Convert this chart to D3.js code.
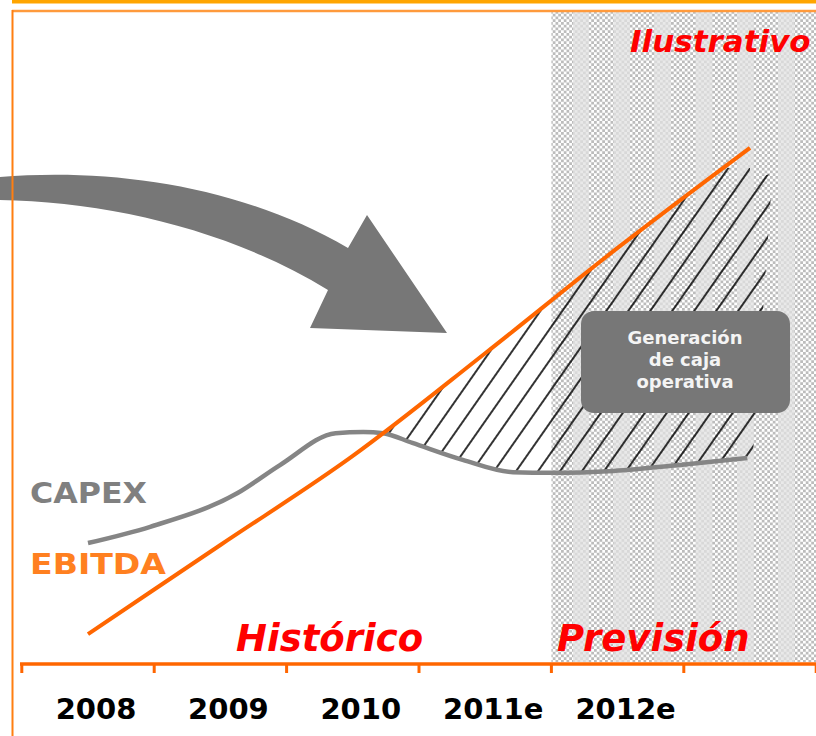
<!DOCTYPE html>
<html>
<head>
<meta charset="utf-8">
<script src="https://cdn.jsdelivr.net/npm/d3@7"></script>
<style>
  html, body { margin: 0; padding: 0; background: #fff; }
  svg { display: block; }
  text { font-family: "DejaVu Sans", Verdana, sans-serif; font-weight: bold; }
</style>
</head>
<body>
<script>
// ---------- data ----------
const years = [2008, 2009, 2010, 2011, 2012, 2013];
const ebitdaValues = [4.3, 18.0, 31.7, 47.5, 63.7, 79.1];
const capexYears = [2008, 2008.47, 2009.13, 2009.45, 2009.87, 2010.08, 2010.23, 2010.45, 2010.83, 2011.21, 2011.51, 2011.97, 2012.47, 2012.98];
const capexValues = [18.3, 20.8, 26.0, 30.3, 35.2, 35.4, 35.2, 33.7, 31.1, 29.2, 29.1, 29.4, 30.3, 31.4];
const tickLabels = ["2008", "2009", "2010", "2011e", "2012e"];
const tickYears = [2007.5, 2008.5, 2009.5, 2010.5, 2011.5, 2012.5, 2013.5];
const forecastStart = 2011.5;
const seriesNames = ["CAPEX", "EBITDA"];
const periodLabels = ["Histórico", "Previsión"];
const noteLabel = "Ilustrativo";
const boxLines = ["Generación", "de caja", "operativa"];

// ---------- setup ----------
const W = 816, H = 736;
const svg = d3.select("body").append("svg").attr("width", W).attr("height", H);
const x = d3.scaleLinear().domain([2008, 2013]).range([88, 750]);
const y = d3.scaleLinear().domain([0, 100]).range([662, 12]);

const defs = svg.append("defs");
// dotted texture for forecast region
const dots = defs.append("pattern").attr("id", "dots")
  .attr("patternUnits", "userSpaceOnUse").attr("width", 5.5).attr("height", 5.5);
dots.append("rect").attr("width", 5.5).attr("height", 5.5).attr("fill", "#fff");
dots.append("rect").attr("x", 0).attr("y", 0).attr("width", 2.75).attr("height", 2.75).attr("fill", "#bcbcbc");
dots.append("rect").attr("x", 2.75).attr("y", 2.75).attr("width", 2.75).attr("height", 2.75).attr("fill", "#bcbcbc");

// hatch pattern
const hatch = defs.append("pattern").attr("id", "hatch")
  .attr("patternUnits", "userSpaceOnUse").attr("width", 18).attr("height", 18)
  .attr("patternTransform", "rotate(35)");
hatch.append("line").attr("x1", 9).attr("x2", 9).attr("y1", -2).attr("y2", 20)
  .attr("stroke", "#000").attr("stroke-width", 1.6);

const ebitdaPts = years.map((yr, i) => [yr, ebitdaValues[i]]);
const capexPts = capexYears.map((yr, i) => [yr, capexValues[i]]);
const curve = d3.curveMonotoneX;

// clip A: under EBITDA (+ small extension on the right)
const clipA = defs.append("clipPath").attr("id", "clipA");
clipA.append("path").attr("d", d3.area().curve(curve)
  .x(d => x(d[0])).y0(y(0)).y1(d => y(d[1]))(ebitdaPts));
clipA.append("path").attr("d", `M${x(2012.46)},${y(71)} L${x(2013.17)},${y(75.2)} L${x(2013.02)},${y(31.3)} L${x(2012.46)},${y(31.3)} Z`);
// clip B: above CAPEX (+ right extension)
const clipB = defs.append("clipPath").attr("id", "clipB");
clipB.append("path").attr("d", d3.area().curve(curve)
  .x(d => x(d[0])).y0(y(100)).y1(d => y(d[1]))(capexPts));
clipB.append("rect").attr("x", x(2012.97)).attr("y", 0).attr("width", 40).attr("height", y(31.6));
// clip C: top limit
const clipC = defs.append("clipPath").attr("id", "clipC");
clipC.append("rect").attr("x", 0).attr("y", y(76)).attr("width", W).attr("height", H);

// ---------- background forecast region ----------
svg.append("rect").attr("x", x(forecastStart)).attr("y", 12)
  .attr("width", W - x(forecastStart)).attr("height", y(0) - 12)
  .attr("fill", "url(#dots)");
const stripeStarts = d3.range(0, 6).map(i => 573 + i * 41);
svg.selectAll(".stripe").data(stripeStarts).enter().append("rect")
  .attr("x", d => d).attr("y", 12).attr("width", 16).attr("height", y(0) - 12)
  .attr("fill", "#e2e2e2").attr("opacity", 0.75);

// ---------- frame ----------
svg.append("rect").attr("x", 12).attr("y", 0).attr("width", W - 12).attr("height", 3.5).attr("fill", "#FFA500");
svg.append("line").attr("x1", 12).attr("x2", W).attr("y1", 11).attr("y2", 11)
  .attr("stroke", "#FF9A3C").attr("stroke-width", 2.5);

// ---------- big arrow ----------
svg.append("path")
  .attr("d", "M0,177 C110,168 240,185 348,248 L367,215 L447,333 L310,328 L328,290 C230,230 110,202 0,200 Z")
  .attr("fill", "#777777");

svg.append("line").attr("x1", 12.5).attr("x2", 12.5).attr("y1", 10).attr("y2", H)
  .attr("stroke", "#FF7F10").attr("stroke-width", 2);

// ---------- hatch ----------
svg.append("g").attr("clip-path", "url(#clipA)")
  .append("g").attr("clip-path", "url(#clipB)")
  .append("g").attr("clip-path", "url(#clipC)")
  .append("rect").attr("x", 0).attr("y", 0).attr("width", W).attr("height", H)
  .attr("fill", "url(#hatch)");

// ---------- lines ----------
svg.append("path").datum(capexPts)
  .attr("d", d3.line().curve(curve).x(d => x(d[0])).y(d => y(d[1])))
  .attr("fill", "none").attr("stroke", "#858585").attr("stroke-width", 4.5).attr("stroke-linecap", "butt");
svg.append("path").datum(ebitdaPts)
  .attr("d", d3.line().curve(curve).x(d => x(d[0])).y(d => y(d[1])))
  .attr("fill", "none").attr("stroke", "#FF6600").attr("stroke-width", 4).attr("stroke-linecap", "butt");

// ---------- box ----------
svg.append("rect").attr("x", 581).attr("y", 311).attr("width", 209).attr("height", 102)
  .attr("rx", 13).attr("fill", "#777777");
svg.selectAll(".boxt").data(boxLines).enter().append("text")
  .attr("x", 685).attr("y", (d, i) => 344 + i * 22)
  .attr("text-anchor", "middle").attr("fill", "#f4f4f4")
  .style("font-size", "18px").text(d => d);

// ---------- series labels ----------
svg.append("text").attr("x", 30).attr("y", 503).attr("fill", "#808080")
  .style("font-size", "28px").attr("textLength", 117).attr("lengthAdjust", "spacingAndGlyphs")
  .text(seriesNames[0]);
svg.append("text").attr("x", 30).attr("y", 574).attr("fill", "#FF8020")
  .style("font-size", "28px").attr("textLength", 136).attr("lengthAdjust", "spacingAndGlyphs")
  .text(seriesNames[1]);

// ---------- period labels ----------
svg.append("text").attr("x", 236).attr("y", 651).attr("fill", "#FF0000")
  .style("font-size", "37px").style("font-style", "italic").text(periodLabels[0]);
svg.append("text").attr("x", 557).attr("y", 651).attr("fill", "#FF0000")
  .style("font-size", "37px").style("font-style", "italic").text(periodLabels[1]);
svg.append("text").attr("x", 630).attr("y", 52).attr("fill", "#FF0000")
  .style("font-size", "31px").style("font-style", "italic").text(noteLabel);

// ---------- axis ----------
const axisG = svg.append("g");
axisG.append("line").attr("x1", 20).attr("x2", W).attr("y1", 664).attr("y2", 664)
  .attr("stroke", "#FF6600").attr("stroke-width", 3.5);
axisG.selectAll(".tick").data(tickYears).enter().append("line")
  .attr("x1", d => x(d)).attr("x2", d => x(d)).attr("y1", 664).attr("y2", 673)
  .attr("stroke", "#FF6600").attr("stroke-width", 3);
axisG.selectAll(".lbl").data(tickLabels).enter().append("text")
  .attr("x", (d, i) => x(years[i]) + 8).attr("y", 719)
  .attr("text-anchor", "middle").attr("fill", "#000")
  .style("font-size", "29px").text(d => d);
</script>
</body>
</html>
